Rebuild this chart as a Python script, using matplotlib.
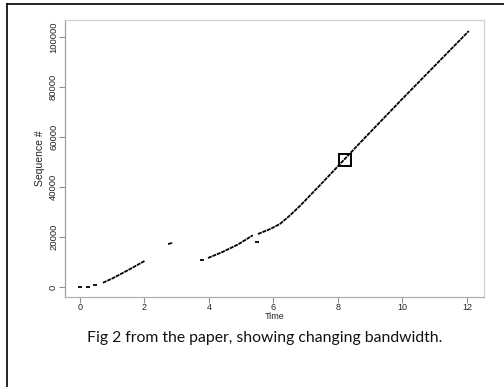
import matplotlib
matplotlib.use("Agg")
from matplotlib import pyplot as plt
from matplotlib.lines import Line2D

# main trace (time in s, sequence #)
t_a = [0.71, 1.0, 1.5, 2.0]
s_a = [1700, 3400, 6800, 10400]
t_b = [2.73, 2.88]
s_b = [17200, 17700]
t_c = [3.97, 4.4, 4.9, 5.36]
s_c = [11600, 13900, 17000, 20700]
t_d = [5.52, 5.9, 6.2]
s_d = [21200, 23200, 25200]
t_e = [6.2, 6.5, 6.82, 7.5, 8.68, 10.0, 12.06]
s_e = [25200, 28500, 32400, 41500, 57600, 75300, 102400]
# stray single packets
t_pts = [0.0, 0.25, 0.47, 3.78, 5.49]
s_pts = [0, 150, 650, 10800, 18000]
# highlighted packet
t_box = [8.22]
s_box = [50800]

xticks = [0, 2, 4, 6, 8, 10, 12]
yticks = [0, 20000, 40000, 60000, 80000, 100000]

fig = plt.figure(figsize=(5.04, 3.87), dpi=100)
fig.patch.set_facecolor("white")

# page frame (left and top edges)
fig.add_artist(Line2D([7/504, 7/504], [0, 1 - 4/387], color="black", lw=1.2))
fig.add_artist(Line2D([7/504, 1], [1 - 4/387, 1 - 4/387], color="black", lw=1.2))

ax = fig.add_axes([65/504, 90/387, 419/504, 277/387])
for sp in ax.spines.values():
    sp.set_color("#d0d0d0")
    sp.set_linewidth(0.9)
ax.spines["left"].set_color("#a0a0a0")
ax.spines["bottom"].set_color("#b0b0b0")

dash = (0, (2.2, 0.45))
for tt, ss in [(t_a, s_a), (t_b, s_b), (t_c, s_c), (t_d, s_d), (t_e, s_e)]:
    ax.plot(tt, ss, color="black", lw=1.3, linestyle=dash, solid_capstyle="butt")
ax.plot(t_pts, s_pts, linestyle="none", marker="_", color="black",
        markersize=3.5, markeredgewidth=1.3)
ax.plot(t_box, s_box, linestyle="none", marker="s", markersize=9,
        markerfacecolor="none", markeredgecolor="black", markeredgewidth=1.4)

ax.set_xlim(-0.465, 12.53)
ax.set_ylim(-4000, 106800)
ax.set_xticks(xticks)
ax.set_yticks(yticks)
ax.set_xticklabels([str(v) for v in xticks], fontsize=6.5,
                   family=["Liberation Sans", "DejaVu Sans"])
ax.set_yticklabels([str(v) for v in yticks], fontsize=6.8, rotation=90,
                   va="center", family=["Liberation Sans Narrow", "Liberation Sans"])
ax.tick_params(axis="both", colors="#909090", length=4, width=0.8, pad=1,
               labelcolor="#222222")
ax.tick_params(axis="x", pad=0.5)

ax.set_xlabel("Time", fontsize=6.5, labelpad=0,
              family=["Liberation Sans", "DejaVu Sans"], color="#222222")
ax.set_ylabel("Sequence #", fontsize=7.5, labelpad=3,
              family=["Liberation Sans Narrow", "Liberation Sans"], color="#222222")

fig.text(265/504, 1 - 338/387, "Fig 2 from the paper, showing changing bandwidth.",
         ha="center", va="center", fontsize=11.3, family=["Lato", "DejaVu Sans"],
         color="#111111")

fig.savefig("out.png", dpi=100)
